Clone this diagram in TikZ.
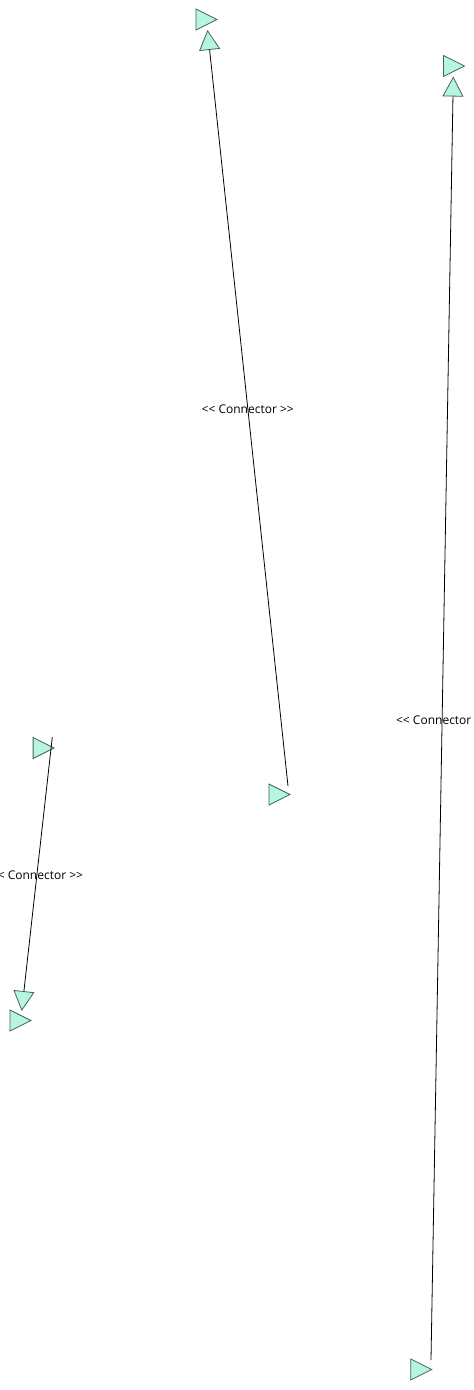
\documentclass[tikz,border=0pt]{standalone}
\usepackage{fontspec}
\setmainfont[Ligatures={NoCommon,NoRequired},Mapping=]{Open Sans}
\usetikzlibrary{shapes.geometric,arrows.meta}
\definecolor{mint}{RGB}{182,245,224}
\definecolor{mintline}{RGB}{70,100,90}
\newcommand{\stereo}[1]{{<}{<} #1 {>}{>}}
\tikzset{
  port/.style={isosceles triangle, isosceles triangle stretches, shape border rotate=0,
    minimum width=21pt, minimum height=21pt, inner sep=0pt, fill=mint, draw=mintline,
    line width=0.8pt, anchor=west},
  conn/.style={draw=black, line width=0.8pt,
    -{Triangle[length=20pt,width=21pt,fill=mint,color=mintline,line width=0.8pt]}},
  lbl/.style={font=\fontsize{12}{14}\selectfont, inner sep=0pt, yshift=-1.5pt}
}
\begin{document}
\begin{tikzpicture}[x=1pt,y=-1pt]
\useasboundingbox (0,0) rectangle (474,1390);
\node[port] (p1) at (195.5,19.5) {};
\node[port] (p2) at (443,66) {};
\node[port] (p3) at (268.5,794.5) {};
\node[port] (p4) at (32.7,748) {};
\node[port] (p5) at (9.5,1020.5) {};
\node[port] (p6) at (410.3,1369.5) {};
\coordinate (s1) at (288,786);
\coordinate (e1) at (207.5,30);
\coordinate (s2) at (431,1360);
\coordinate (e2) at (453.3,76.5);
\coordinate (s3) at (52.3,737);
\coordinate (e3) at (21.7,1011);
\draw[conn] (s1) -- node[lbl]{\stereo{Connector}} (e1);
\draw[conn] (s2) -- node[lbl]{\stereo{Connector}} (e2);
\draw[conn] (s3) -- node[lbl]{\stereo{Connector}} (e3);
\end{tikzpicture}
\end{document}
